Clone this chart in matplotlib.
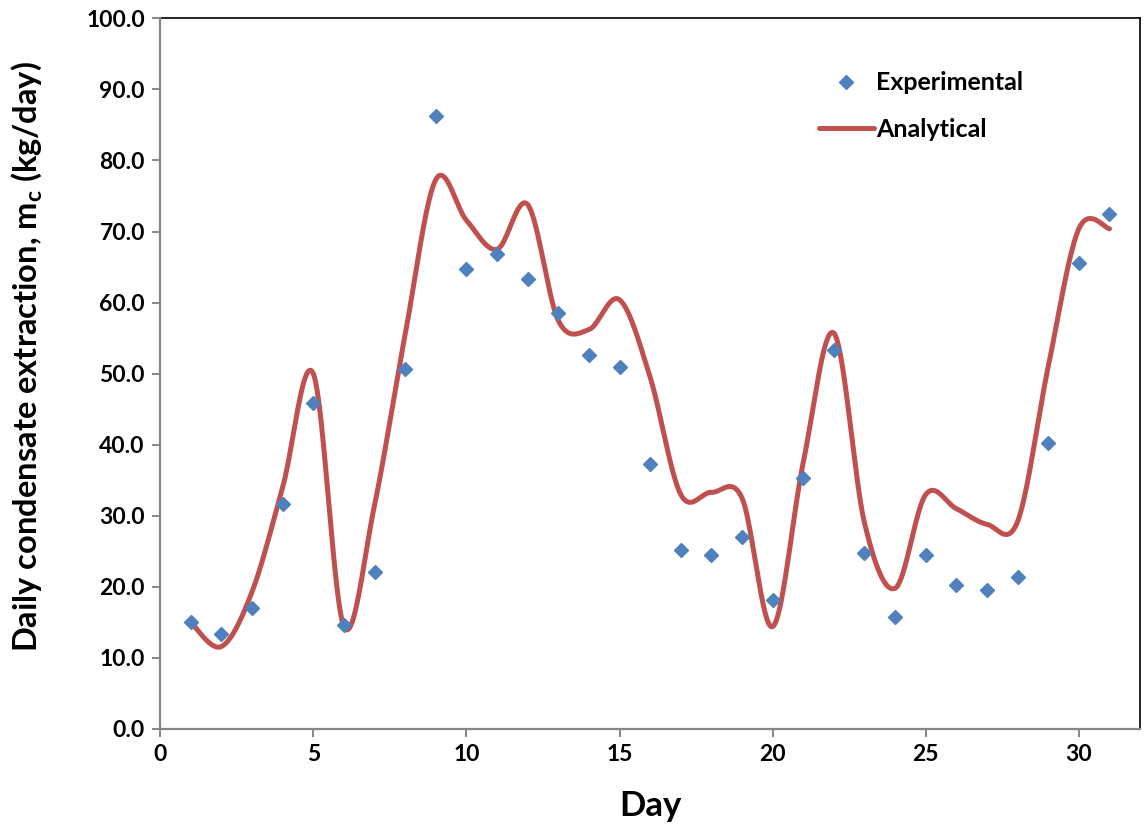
import matplotlib
matplotlib.use('Agg')
import matplotlib.pyplot as plt
import numpy as np

# measured daily extraction
day = np.arange(1, 32)
m_exp = np.array([15.0, 13.4, 17.0, 31.7, 45.9, 14.6, 22.1, 50.7, 86.3, 64.7,
                  66.8, 63.3, 58.6, 52.6, 50.9, 37.3, 25.2, 24.5, 27.0, 18.1,
                  35.3, 53.4, 24.8, 15.7, 24.5, 20.3, 19.5, 21.4, 40.3, 65.6,
                  72.5])
# model prediction
m_ana = np.array([15.0, 11.6, 19.3, 34.0, 50.0, 14.4, 31.5, 55.5, 77.3, 71.6,
                  67.5, 73.8, 57.5, 56.2, 60.4, 49.5, 33.0, 33.3, 32.5, 14.4,
                  37.5, 55.7, 29.0, 19.8, 33.0, 31.0, 28.8, 29.2, 51.0, 70.4,
                  70.4])


def smooth(x, y, n=40):
    '''Bezier smoothing through every point (spreadsheet style)'''
    xs, ys = [], []
    N = len(x)
    for k in range(N - 1):
        km = max(k - 1, 0)
        kp = min(k + 2, N - 1)
        p0 = np.array([x[k], y[k]])
        p3 = np.array([x[k + 1], y[k + 1]])
        p1 = p0 + (p3 - np.array([x[km], y[km]])) / 6.0
        p2 = p3 - (np.array([x[kp], y[kp]]) - p0) / 6.0
        t = np.linspace(0, 1, n)[:, None]
        b = ((1 - t)**3 * p0 + 3 * (1 - t)**2 * t * p1
             + 3 * (1 - t) * t**2 * p2 + t**3 * p3)
        xs.append(b[:, 0])
        ys.append(b[:, 1])
    return np.concatenate(xs), np.concatenate(ys)


plt.rcParams['font.family'] = ['Lato', 'DejaVu Sans']
plt.rcParams['font.weight'] = 'bold'
plt.rcParams['mathtext.fontset'] = 'custom'
plt.rcParams['mathtext.rm'] = 'Lato:bold'
plt.rcParams['mathtext.it'] = 'Lato:bold'
plt.rcParams['mathtext.bf'] = 'Lato:bold'

fig = plt.figure(figsize=(11.44, 8.35), dpi=100)
ax = fig.add_axes([0.14, 0.127, 0.8566, 0.851])

ax.plot(day, m_exp, 'D', color='#4F81BD', markersize=7.5, label='Experimental',
        zorder=3)
xs, ys = smooth(day, m_ana)
ax.plot(xs, ys, '-', color='#C0504D', lw=3.6, solid_capstyle='round',
        label='Analytical', zorder=2)

ax.set_xlim(0, 32)
ax.set_ylim(0, 100)
ax.set_xticks(np.arange(0, 31, 5))
ax.set_yticks(np.arange(0, 101, 10))
ax.set_yticklabels(['%.1f' % v for v in np.arange(0, 101, 10)])

for s in ['left', 'bottom']:
    ax.spines[s].set_color('#868686')
    ax.spines[s].set_linewidth(1.6)
    ax.spines[s].set_zorder(4)
for s in ['top', 'right']:
    ax.spines[s].set_color('black')
    ax.spines[s].set_linewidth(1.2)
ax.tick_params(direction='out', length=6, width=1.4, color='#868686',
               labelsize=16.5, pad=5)
for lab in ax.get_xticklabels() + ax.get_yticklabels():
    lab.set_fontweight('bold')

ax.set_xlabel('Day', fontsize=25, fontweight='bold', labelpad=18)
ax.set_ylabel(r'Daily condensate extraction, m$_\mathregular{c}$ (kg/day)',
              fontsize=23.5, fontweight='bold', labelpad=30)
ax.yaxis.label.set_y(0.524)

ax.legend(loc='upper left', bbox_to_anchor=(0.6595, 0.943), frameon=False,
          handlelength=2.2, handletextpad=0.08, labelspacing=0.95,
          borderpad=0, prop={'weight': 'bold', 'size': 18})

fig.savefig('out.png', dpi=100)
